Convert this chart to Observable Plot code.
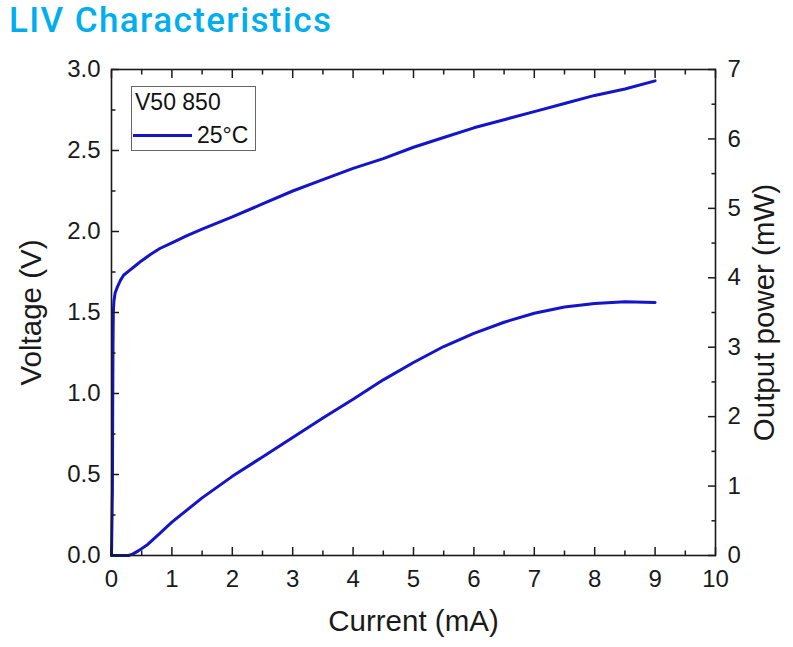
<!DOCTYPE html>
<html>
<head>
<meta charset="utf-8">
<script src="https://cdn.jsdelivr.net/npm/d3@7"></script>
<script src="https://cdn.jsdelivr.net/npm/@observablehq/plot@0.6"></script>
<style>
  html, body { margin: 0; padding: 0; background: #fff; overflow: hidden; }
  #wrap { position: relative; width: 793px; height: 647px; }
  #title { height: 40px; padding-left: 9px; font-family: Roboto, "Open Sans", sans-serif; font-weight: 500; font-size: 35px; letter-spacing: 1.4px; line-height: normal; color: #00aeef; white-space: nowrap; overflow: visible; }
  #legend { position: absolute; left: 131px; top: 86px; width: 125px; height: 65px; border: 1px solid #666; background: #fff; font-family: "Liberation Sans", Arial, sans-serif; font-size: 23px; color: #111; box-sizing: border-box; }
  #legend .name { position: absolute; left: 3px; top: 2px; }
  #legend .swatch { position: absolute; left: 1px; top: 47px; width: 59px; height: 3px; }
  #legend .lab { position: absolute; left: 65px; top: 35px; }
</style>
</head>
<body>
<div id="wrap">
  <div id="title"></div>
  <div id="chart"></div>
  <div id="legend"><span class="name"></span><div class="swatch"></div><span class="lab"></span></div>
</div>
<script>
// ---- data ----
const titleText = "LIV Characteristics";
const seriesName = "V50 850";
const seriesLabel = "25°C";
const xLabel = "Current (mA)";
const yLabel = "Voltage (V)";
const y2Label = "Output power (mW)";

const currentV = [0, 0.015, 0.02, 0.025, 0.03, 0.04, 0.06, 0.1, 0.15, 0.2, 0.3, 0.4, 0.5, 0.65, 0.8, 1.0, 1.25, 1.5, 2.0, 2.5, 3.0, 3.5, 4.0, 4.5, 5.0, 5.5, 6.0, 6.5, 7.0, 7.5, 8.0, 8.5, 9.0];
const voltage  = [0, 0.4, 0.9, 1.3, 1.5, 1.57, 1.62, 1.66, 1.70, 1.73, 1.76, 1.79, 1.82, 1.86, 1.895, 1.93, 1.975, 2.015, 2.09, 2.17, 2.25, 2.32, 2.39, 2.45, 2.52, 2.58, 2.64, 2.69, 2.74, 2.79, 2.84, 2.88, 2.93];

const currentP = [0, 0.28, 0.35, 0.45, 0.6, 0.8, 1.0, 1.5, 2.0, 2.5, 3.0, 3.5, 4.0, 4.5, 5.0, 5.5, 6.0, 6.5, 7.0, 7.5, 8.0, 8.5, 9.0];
const power    = [0, 0, 0.02, 0.07, 0.16, 0.32, 0.48, 0.83, 1.14, 1.42, 1.70, 1.98, 2.25, 2.53, 2.78, 3.01, 3.20, 3.36, 3.49, 3.58, 3.63, 3.655, 3.645];

const xTicks = [0, 1, 2, 3, 4, 5, 6, 7, 8, 9, 10];
const xMinorTicks = [0.5, 1.5, 2.5, 3.5, 4.5, 5.5, 6.5, 7.5, 8.5, 9.5];
const vTicks = [0, 0.5, 1.0, 1.5, 2.0, 2.5, 3.0];
const vMinorTicks = [0.25, 0.75, 1.25, 1.75, 2.25, 2.75];
const pTicks = [0, 1, 2, 3, 4, 5, 6, 7];
const pMinorTicks = [0.5, 1.5, 2.5, 3.5, 4.5, 5.5, 6.5];

const xDomain = [0, 10];
const vMax = 3;
const pMax = 7;
const lineColor = "#1414c8";

// ---- build ----
document.getElementById("title").textContent = titleText;
document.querySelector("#legend .name").textContent = seriesName;
document.querySelector("#legend .lab").textContent = seriesLabel;
document.querySelector("#legend .swatch").style.background = lineColor;

const vData = currentV.map((I, i) => ({I, V: voltage[i]}));
const pData = currentP.map((I, i) => ({I, P: power[i]}));
const toV = p => p * vMax / pMax;

const tickFont = 24;
const labelFont = 29.5;
const axisColor = "#1a1a1a";
const blank = () => "";

const chart = Plot.plot({
  width: 793,
  height: 607,
  marginTop: 29,
  marginRight: 78,
  marginBottom: 92,
  marginLeft: 111,
  style: {fontFamily: "'Liberation Sans', Arial, sans-serif", color: axisColor, background: "white"},
  x: {domain: xDomain},
  y: {domain: [0, vMax]},
  marks: [
    Plot.line(vData, {x: "I", y: "V", stroke: lineColor, strokeWidth: 3, strokeLinejoin: "round"}),
    Plot.line(pData, {x: "I", y: d => toV(d.P), stroke: lineColor, strokeWidth: 3, strokeLinejoin: "round"}),
    Plot.frame({stroke: axisColor, strokeWidth: 1.6}),
    // bottom axis
    Plot.axisX(xTicks, {anchor: "bottom", tickSize: -8, tickPadding: 22, fontSize: tickFont, strokeWidth: 1.5, label: null, tickFormat: d3.format("d")}),
    Plot.axisX(xMinorTicks, {anchor: "bottom", tickSize: -4.5, tickPadding: 0, strokeWidth: 1.5, label: null, tickFormat: blank}),
    // top axis (ticks only)
    Plot.axisX(xTicks, {anchor: "top", tickSize: -8, tickPadding: 0, strokeWidth: 1.5, label: null, tickFormat: blank}),
    Plot.axisX(xMinorTicks, {anchor: "top", tickSize: -4.5, tickPadding: 0, strokeWidth: 1.5, label: null, tickFormat: blank}),
    // left axis
    Plot.axisY(vTicks, {anchor: "left", tickSize: -8, tickPadding: 19, fontSize: tickFont, strokeWidth: 1.5, label: null, tickFormat: d3.format(".1f")}),
    Plot.axisY(vMinorTicks, {anchor: "left", tickSize: -4.5, tickPadding: 0, strokeWidth: 1.5, label: null, tickFormat: blank}),
    // right axis (output power)
    Plot.axisY(pTicks.map(toV), {anchor: "right", tickSize: -8, tickPadding: 20, fontSize: tickFont, strokeWidth: 1.5, label: null, tickFormat: v => String(Math.round(v * pMax / vMax))}),
    Plot.axisY(pMinorTicks.map(toV), {anchor: "right", tickSize: -4.5, tickPadding: 0, strokeWidth: 1.5, label: null, tickFormat: blank}),
    // axis titles
    Plot.text([xLabel], {text: d => d, frameAnchor: "bottom", dy: 66, fontSize: labelFont, textAnchor: "middle", lineAnchor: "middle", fill: axisColor}),
    Plot.text([yLabel], {text: d => d, frameAnchor: "left", dx: -80, rotate: -90, fontSize: labelFont, textAnchor: "middle", lineAnchor: "middle", fill: axisColor}),
    Plot.text([y2Label], {text: d => d, frameAnchor: "right", dx: 49, rotate: -90, fontSize: labelFont, textAnchor: "middle", lineAnchor: "middle", fill: axisColor})
  ]
});
document.getElementById("chart").appendChild(chart);
</script>
</body>
</html>
